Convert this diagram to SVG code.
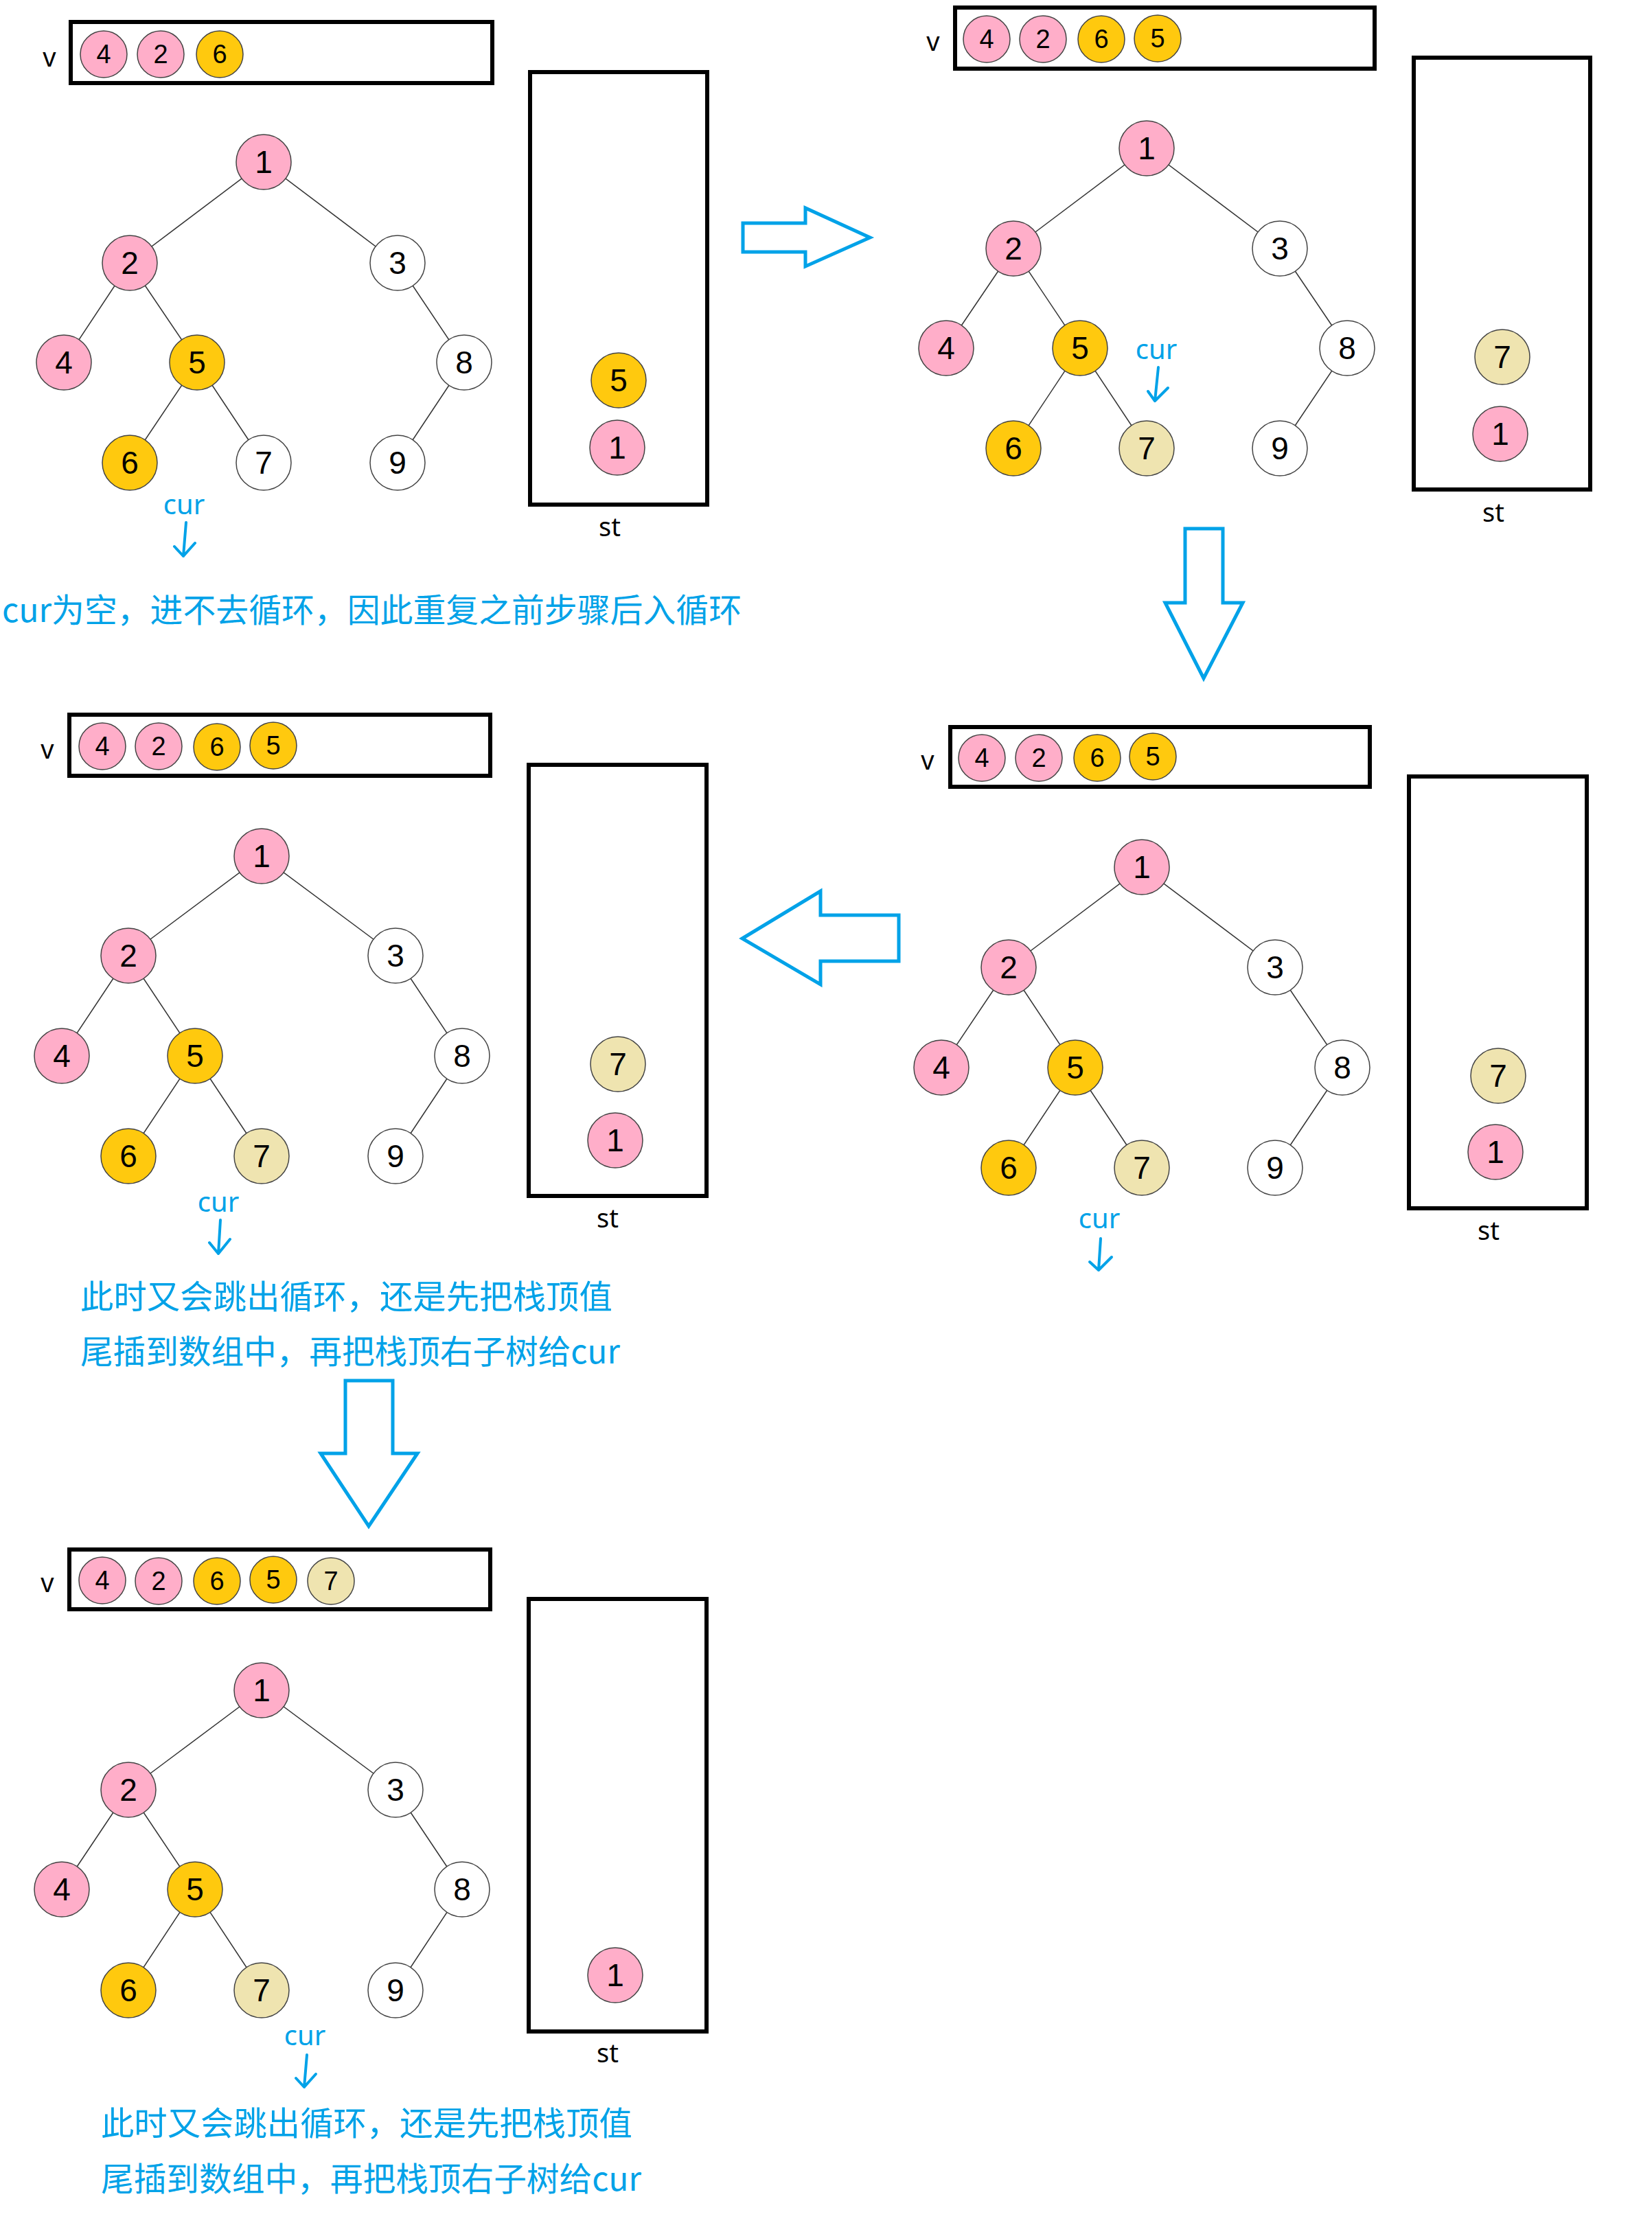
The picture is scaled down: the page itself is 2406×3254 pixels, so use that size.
<svg xmlns="http://www.w3.org/2000/svg" width="2406" height="3254" viewBox="0 0 2406 3254">
<style>
.pk{fill:#FFAEC9}.yl{fill:#FFC90E}.bg{fill:#EFE4B0}.wh{fill:#FFFFFF}
circle{stroke:#444;stroke-width:1.5}
.d{font-family:"Liberation Sans",Arial,sans-serif;font-size:46px;text-anchor:middle;fill:#000}
.ds{font-size:38px}
.box{fill:none;stroke:#000;stroke-width:6}
.edge{stroke:#333;stroke-width:1.5}
.lbl{font-family:"Noto Sans","DejaVu Sans",sans-serif;font-size:38px;fill:#000;text-anchor:middle}
.cur{font-family:"Noto Sans","DejaVu Sans",sans-serif;font-size:40px;fill:#00A2E8;text-anchor:middle}
.note{font-family:"Noto Sans CJK SC","Noto Sans",sans-serif;font-size:48px;fill:#00A2E8}
.big{fill:#fff;stroke:#00A2E8;stroke-width:5;stroke-linejoin:miter}
.hand{fill:none;stroke:#00A2E8;stroke-width:4;stroke-linecap:round;stroke-linejoin:round}
</style>
<rect x="0" y="0" width="2406" height="3254" fill="#fff"/>

<!-- connectors: tree edges -->
<g id="connectors">
  <g id="p1-edges" class="edge">
    <line x1="384" y1="236" x2="189" y2="383"/><line x1="384" y1="236" x2="579" y2="383"/>
    <line x1="189" y1="383" x2="93" y2="528"/><line x1="189" y1="383" x2="287" y2="528"/>
    <line x1="579" y1="383" x2="676" y2="528"/><line x1="287" y1="528" x2="189" y2="674"/>
    <line x1="287" y1="528" x2="384" y2="674"/><line x1="676" y1="528" x2="579" y2="674"/>
  </g>
  <g id="p2-edges" class="edge">
    <line x1="1670" y1="216" x2="1476" y2="362"/><line x1="1670" y1="216" x2="1864" y2="362"/>
    <line x1="1476" y1="362" x2="1378" y2="507"/><line x1="1476" y1="362" x2="1573" y2="507"/>
    <line x1="1864" y1="362" x2="1962" y2="507"/><line x1="1573" y1="507" x2="1476" y2="653"/>
    <line x1="1573" y1="507" x2="1670" y2="653"/><line x1="1962" y1="507" x2="1864" y2="653"/>
  </g>
  <g id="p3-edges" class="edge">
    <line x1="381" y1="1247" x2="187" y2="1392"/><line x1="381" y1="1247" x2="576" y2="1392"/>
    <line x1="187" y1="1392" x2="90" y2="1538"/><line x1="187" y1="1392" x2="284" y2="1538"/>
    <line x1="576" y1="1392" x2="673" y2="1538"/><line x1="284" y1="1538" x2="187" y2="1684"/>
    <line x1="284" y1="1538" x2="381" y2="1684"/><line x1="673" y1="1538" x2="576" y2="1684"/>
  </g>
  <g id="p4-edges" class="edge">
    <line x1="1663" y1="1263" x2="1469" y2="1409"/><line x1="1663" y1="1263" x2="1857" y2="1409"/>
    <line x1="1469" y1="1409" x2="1371" y2="1555"/><line x1="1469" y1="1409" x2="1566" y2="1555"/>
    <line x1="1857" y1="1409" x2="1955" y2="1555"/><line x1="1566" y1="1555" x2="1469" y2="1701"/>
    <line x1="1566" y1="1555" x2="1663" y2="1701"/><line x1="1955" y1="1555" x2="1857" y2="1701"/>
  </g>
  <g id="p5-edges" class="edge">
    <line x1="381" y1="2462" x2="187" y2="2607"/><line x1="381" y1="2462" x2="576" y2="2607"/>
    <line x1="187" y1="2607" x2="90" y2="2752"/><line x1="187" y1="2607" x2="284" y2="2752"/>
    <line x1="576" y1="2607" x2="673" y2="2752"/><line x1="284" y1="2752" x2="187" y2="2899"/>
    <line x1="284" y1="2752" x2="381" y2="2899"/><line x1="673" y1="2752" x2="576" y2="2899"/>
  </g>
  <!-- big step arrows -->
  <polygon id="arrow-right" class="big" points="1082,325 1173,325 1173,303 1267,346 1173,388 1173,367 1082,367"/>
  <polygon id="arrow-down-1" class="big" points="1726,770 1781,770 1781,878 1810,878 1753,988 1697,878 1726,878"/>
  <polygon id="arrow-left" class="big" points="1081,1367 1195,1298 1195,1333 1309,1333 1309,1400 1195,1400 1195,1434"/>
  <polygon id="arrow-down-2" class="big" points="503,2011 572,2011 572,2117 608,2117 537,2223 467,2117 503,2117"/>
  <!-- cur pointers -->
  <path id="p1-cur-arrow" class="hand" d="M271,761 L267,810 M254,796 L267,810 L284,791"/>
  <path id="p2-cur-arrow" class="hand" d="M1687,535 L1682,584 M1672,570 L1682,584 L1701,565"/>
  <path id="p3-cur-arrow" class="hand" d="M321,1777 L318,1826 M305,1810 L318,1826 L335,1805"/>
  <path id="p4-cur-arrow" class="hand" d="M1603,1804 L1600,1850 M1587,1838 L1600,1850 L1619,1831"/>
  <path id="p5-cur-arrow" class="hand" d="M447,2993 L443,3040 M431,3027 L443,3040 L460,3021"/>
</g>

<!-- ================= Panel 1 ================= -->
<g id="panel1">
  <text class="lbl" x="72" y="97">v</text>
  <rect id="p1-v" class="box" x="103" y="32" width="614" height="89"/>
  <g id="p1-v4"><circle class="pk" cx="151" cy="79" r="34"/><text class="d ds" x="151" y="92">4</text></g>
  <g id="p1-v2"><circle class="pk" cx="234" cy="79" r="34"/><text class="d ds" x="234" y="92">2</text></g>
  <g id="p1-v6"><circle class="yl" cx="320" cy="79" r="34"/><text class="d ds" x="320" y="92">6</text></g>
  <g id="p1-n1"><circle class="pk" cx="384" cy="236" r="40"/><text class="d" x="384" y="252">1</text></g>
  <g id="p1-n2"><circle class="pk" cx="189" cy="383" r="40"/><text class="d" x="189" y="399">2</text></g>
  <g id="p1-n3"><circle class="wh" cx="579" cy="383" r="40"/><text class="d" x="579" y="399">3</text></g>
  <g id="p1-n4"><circle class="pk" cx="93" cy="528" r="40"/><text class="d" x="93" y="544">4</text></g>
  <g id="p1-n5"><circle class="yl" cx="287" cy="528" r="40"/><text class="d" x="287" y="544">5</text></g>
  <g id="p1-n8"><circle class="wh" cx="676" cy="528" r="40"/><text class="d" x="676" y="544">8</text></g>
  <g id="p1-n6"><circle class="yl" cx="189" cy="674" r="40"/><text class="d" x="189" y="690">6</text></g>
  <g id="p1-n7"><circle class="wh" cx="384" cy="674" r="40"/><text class="d" x="384" y="690">7</text></g>
  <g id="p1-n9"><circle class="wh" cx="579" cy="674" r="40"/><text class="d" x="579" y="690">9</text></g>
  <rect id="p1-st" class="box" x="772" y="105" width="258" height="630"/>
  <g id="p1-s5"><circle class="yl" cx="901" cy="554" r="40"/><text class="d" x="901" y="570">5</text></g>
  <g id="p1-s1"><circle class="pk" cx="899" cy="652" r="40"/><text class="d" x="899" y="668">1</text></g>
  <text class="lbl" x="888" y="781">st</text>
  <text class="cur" x="268" y="749">cur</text>
  <text class="note" x="3" y="906" textLength="1077" lengthAdjust="spacingAndGlyphs">cur为空，进不去循环，因此重复之前步骤后入循环</text>
</g>

<!-- ================= Panel 2 ================= -->
<g id="panel2">
  <text class="lbl" x="1359" y="74">v</text>
  <rect id="p2-v" class="box" x="1391" y="11" width="611" height="89"/>
  <g id="p2-v4"><circle class="pk" cx="1437" cy="57" r="34"/><text class="d ds" x="1437" y="70">4</text></g>
  <g id="p2-v2"><circle class="pk" cx="1519" cy="57" r="34"/><text class="d ds" x="1519" y="70">2</text></g>
  <g id="p2-v6"><circle class="yl" cx="1604" cy="57" r="34"/><text class="d ds" x="1604" y="70">6</text></g>
  <g id="p2-v5"><circle class="yl" cx="1686" cy="56" r="34"/><text class="d ds" x="1686" y="69">5</text></g>
  <g id="p2-n1"><circle class="pk" cx="1670" cy="216" r="40"/><text class="d" x="1670" y="232">1</text></g>
  <g id="p2-n2"><circle class="pk" cx="1476" cy="362" r="40"/><text class="d" x="1476" y="378">2</text></g>
  <g id="p2-n3"><circle class="wh" cx="1864" cy="362" r="40"/><text class="d" x="1864" y="378">3</text></g>
  <g id="p2-n4"><circle class="pk" cx="1378" cy="507" r="40"/><text class="d" x="1378" y="523">4</text></g>
  <g id="p2-n5"><circle class="yl" cx="1573" cy="507" r="40"/><text class="d" x="1573" y="523">5</text></g>
  <g id="p2-n8"><circle class="wh" cx="1962" cy="507" r="40"/><text class="d" x="1962" y="523">8</text></g>
  <g id="p2-n6"><circle class="yl" cx="1476" cy="653" r="40"/><text class="d" x="1476" y="669">6</text></g>
  <g id="p2-n7"><circle class="bg" cx="1670" cy="653" r="40"/><text class="d" x="1670" y="669">7</text></g>
  <g id="p2-n9"><circle class="wh" cx="1864" cy="653" r="40"/><text class="d" x="1864" y="669">9</text></g>
  <rect id="p2-st" class="box" x="2059" y="84" width="257" height="629"/>
  <g id="p2-s7"><circle class="bg" cx="2188" cy="520" r="40"/><text class="d" x="2188" y="536">7</text></g>
  <g id="p2-s1"><circle class="pk" cx="2185" cy="632" r="40"/><text class="d" x="2185" y="648">1</text></g>
  <text class="lbl" x="2175" y="760">st</text>
  <text class="cur" x="1684" y="523">cur</text>
</g>

<!-- ================= Panel 3 ================= -->
<g id="panel3">
  <text class="lbl" x="69" y="1105">v</text>
  <rect id="p3-v" class="box" x="101" y="1041" width="613" height="89"/>
  <g id="p3-v4"><circle class="pk" cx="149" cy="1087" r="34"/><text class="d ds" x="149" y="1100">4</text></g>
  <g id="p3-v2"><circle class="pk" cx="231" cy="1087" r="34"/><text class="d ds" x="231" y="1100">2</text></g>
  <g id="p3-v6"><circle class="yl" cx="316" cy="1088" r="34"/><text class="d ds" x="316" y="1101">6</text></g>
  <g id="p3-v5"><circle class="yl" cx="398" cy="1086" r="34"/><text class="d ds" x="398" y="1099">5</text></g>
  <g id="p3-n1"><circle class="pk" cx="381" cy="1247" r="40"/><text class="d" x="381" y="1263">1</text></g>
  <g id="p3-n2"><circle class="pk" cx="187" cy="1392" r="40"/><text class="d" x="187" y="1408">2</text></g>
  <g id="p3-n3"><circle class="wh" cx="576" cy="1392" r="40"/><text class="d" x="576" y="1408">3</text></g>
  <g id="p3-n4"><circle class="pk" cx="90" cy="1538" r="40"/><text class="d" x="90" y="1554">4</text></g>
  <g id="p3-n5"><circle class="yl" cx="284" cy="1538" r="40"/><text class="d" x="284" y="1554">5</text></g>
  <g id="p3-n8"><circle class="wh" cx="673" cy="1538" r="40"/><text class="d" x="673" y="1554">8</text></g>
  <g id="p3-n6"><circle class="yl" cx="187" cy="1684" r="40"/><text class="d" x="187" y="1700">6</text></g>
  <g id="p3-n7"><circle class="bg" cx="381" cy="1684" r="40"/><text class="d" x="381" y="1700">7</text></g>
  <g id="p3-n9"><circle class="wh" cx="576" cy="1684" r="40"/><text class="d" x="576" y="1700">9</text></g>
  <rect id="p3-st" class="box" x="770" y="1114" width="259" height="628"/>
  <g id="p3-s7"><circle class="bg" cx="900" cy="1550" r="40"/><text class="d" x="900" y="1566">7</text></g>
  <g id="p3-s1"><circle class="pk" cx="896" cy="1661" r="40"/><text class="d" x="896" y="1677">1</text></g>
  <text class="lbl" x="885" y="1788">st</text>
  <text class="cur" x="318" y="1765">cur</text>
  <text class="note" x="117" y="1906" textLength="775" lengthAdjust="spacingAndGlyphs">此时又会跳出循环，还是先把栈顶值</text>
  <text class="note" x="117" y="1986" textLength="786" lengthAdjust="spacingAndGlyphs">尾插到数组中，再把栈顶右子树给cur</text>
</g>

<!-- ================= Panel 4 ================= -->
<g id="panel4">
  <text class="lbl" x="1351" y="1121">v</text>
  <rect id="p4-v" class="box" x="1384" y="1059" width="611" height="87"/>
  <g id="p4-v4"><circle class="pk" cx="1430" cy="1104" r="34"/><text class="d ds" x="1430" y="1117">4</text></g>
  <g id="p4-v2"><circle class="pk" cx="1513" cy="1104" r="34"/><text class="d ds" x="1513" y="1117">2</text></g>
  <g id="p4-v6"><circle class="yl" cx="1598" cy="1104" r="34"/><text class="d ds" x="1598" y="1117">6</text></g>
  <g id="p4-v5"><circle class="yl" cx="1679" cy="1102" r="34"/><text class="d ds" x="1679" y="1115">5</text></g>
  <g id="p4-n1"><circle class="pk" cx="1663" cy="1263" r="40"/><text class="d" x="1663" y="1279">1</text></g>
  <g id="p4-n2"><circle class="pk" cx="1469" cy="1409" r="40"/><text class="d" x="1469" y="1425">2</text></g>
  <g id="p4-n3"><circle class="wh" cx="1857" cy="1409" r="40"/><text class="d" x="1857" y="1425">3</text></g>
  <g id="p4-n4"><circle class="pk" cx="1371" cy="1555" r="40"/><text class="d" x="1371" y="1571">4</text></g>
  <g id="p4-n5"><circle class="yl" cx="1566" cy="1555" r="40"/><text class="d" x="1566" y="1571">5</text></g>
  <g id="p4-n8"><circle class="wh" cx="1955" cy="1555" r="40"/><text class="d" x="1955" y="1571">8</text></g>
  <g id="p4-n6"><circle class="yl" cx="1469" cy="1701" r="40"/><text class="d" x="1469" y="1717">6</text></g>
  <g id="p4-n7"><circle class="bg" cx="1663" cy="1701" r="40"/><text class="d" x="1663" y="1717">7</text></g>
  <g id="p4-n9"><circle class="wh" cx="1857" cy="1701" r="40"/><text class="d" x="1857" y="1717">9</text></g>
  <rect id="p4-st" class="box" x="2052" y="1131" width="259" height="629"/>
  <g id="p4-s7"><circle class="bg" cx="2182" cy="1567" r="40"/><text class="d" x="2182" y="1583">7</text></g>
  <g id="p4-s1"><circle class="pk" cx="2178" cy="1678" r="40"/><text class="d" x="2178" y="1694">1</text></g>
  <text class="lbl" x="2168" y="1806">st</text>
  <text class="cur" x="1601" y="1789">cur</text>
</g>

<!-- ================= Panel 5 ================= -->
<g id="panel5">
  <text class="lbl" x="69" y="2319">v</text>
  <rect id="p5-v" class="box" x="101" y="2257" width="613" height="87"/>
  <g id="p5-v4"><circle class="pk" cx="149" cy="2302" r="34"/><text class="d ds" x="149" y="2315">4</text></g>
  <g id="p5-v2"><circle class="pk" cx="231" cy="2303" r="34"/><text class="d ds" x="231" y="2316">2</text></g>
  <g id="p5-v6"><circle class="yl" cx="316" cy="2303" r="34"/><text class="d ds" x="316" y="2316">6</text></g>
  <g id="p5-v5"><circle class="yl" cx="398" cy="2301" r="34"/><text class="d ds" x="398" y="2314">5</text></g>
  <g id="p5-v7"><circle class="bg" cx="482" cy="2303" r="34"/><text class="d ds" x="482" y="2316">7</text></g>
  <g id="p5-n1"><circle class="pk" cx="381" cy="2462" r="40"/><text class="d" x="381" y="2478">1</text></g>
  <g id="p5-n2"><circle class="pk" cx="187" cy="2607" r="40"/><text class="d" x="187" y="2623">2</text></g>
  <g id="p5-n3"><circle class="wh" cx="576" cy="2607" r="40"/><text class="d" x="576" y="2623">3</text></g>
  <g id="p5-n4"><circle class="pk" cx="90" cy="2752" r="40"/><text class="d" x="90" y="2768">4</text></g>
  <g id="p5-n5"><circle class="yl" cx="284" cy="2752" r="40"/><text class="d" x="284" y="2768">5</text></g>
  <g id="p5-n8"><circle class="wh" cx="673" cy="2752" r="40"/><text class="d" x="673" y="2768">8</text></g>
  <g id="p5-n6"><circle class="yl" cx="187" cy="2899" r="40"/><text class="d" x="187" y="2915">6</text></g>
  <g id="p5-n7"><circle class="bg" cx="381" cy="2899" r="40"/><text class="d" x="381" y="2915">7</text></g>
  <g id="p5-n9"><circle class="wh" cx="576" cy="2899" r="40"/><text class="d" x="576" y="2915">9</text></g>
  <rect id="p5-st" class="box" x="770" y="2329" width="259" height="630"/>
  <g id="p5-s1"><circle class="pk" cx="896" cy="2877" r="40"/><text class="d" x="896" y="2893">1</text></g>
  <text class="lbl" x="885" y="3004">st</text>
  <text class="cur" x="444" y="2979">cur</text>
  <text class="note" x="147" y="3110" textLength="774" lengthAdjust="spacingAndGlyphs">此时又会跳出循环，还是先把栈顶值</text>
  <text class="note" x="147" y="3191" textLength="787" lengthAdjust="spacingAndGlyphs">尾插到数组中，再把栈顶右子树给cur</text>
</g>
</svg>
